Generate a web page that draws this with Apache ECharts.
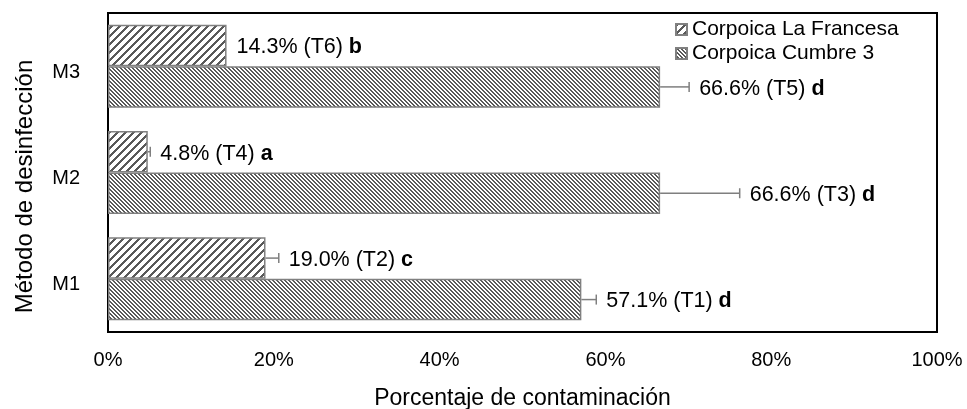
<!DOCTYPE html>
<html>
<head>
<meta charset="utf-8">
<script src="https://cdn.jsdelivr.net/npm/echarts@6/dist/echarts.min.js"></script>
<style>html,body{margin:0;background:#fff}#chart{width:967px;height:409px}</style>
</head>
<body>
<div id="chart"></div>
<script>
// datos
const categories = ['M1', 'M2', 'M3'];
const seriesNames = ['Corpoica La Francesa', 'Corpoica Cumbre 3'];
const francesa = [19.0, 4.8, 14.3];
const cumbre = [57.1, 66.6, 66.6];
const francesaErr = [1.6, 0.3, 0];
const cumbreErr = [1.8, 9.6, 3.5];
const francesaTrt = ['T2', 'T4', 'T6'];
const cumbreTrt = ['T1', 'T3', 'T5'];
const francesaLetter = ['c', 'a', 'b'];
const cumbreLetter = ['d', 'd', 'd'];

const FONT = 'Liberation Sans, Arial, sans-serif';
const gapRatio = 0.22;

// trama 8x8 estilo Excel
function hatch(test) {
    const c = document.createElement('canvas');
    c.width = 8; c.height = 8;
    const ctx = c.getContext('2d');
    ctx.fillStyle = '#fff';
    ctx.fillRect(0, 0, 8, 8);
    ctx.fillStyle = '#595959';
    for (let y = 0; y < 8; y++) {
        for (let x = 0; x < 8; x++) {
            if (test(x, y)) ctx.fillRect(x, y, 1, 1);
        }
    }
    return c;
}
const wideUp = hatch((x, y) => (x + y) % 8 < 3);
const darkDown = hatch((x, y) => (x - y + 8) % 4 < 2);

function barSeries(name, values, pattern) {
    return {
        name: name,
        type: 'bar',
        data: values,
        barGap: '0%',
        barCategoryGap: (gapRatio * 100) + '%',
        itemStyle: {
            color: { image: pattern, repeat: 'repeat' },
            borderColor: '#808080',
            borderWidth: 1.5,
        },
    };
}

// barras de error + etiqueta de cada barra
function errorSeries(values, errs, trts, letters, slot) {
    return {
        type: 'custom',
        silent: true,
        z: 5,
        data: values.map((v, i) => [v, v + errs[i], i]),
        encode: { x: [0, 1], y: 2 },
        renderItem: function (params, api) {
            const i = params.dataIndex;
            const band = api.size([0, 1])[1];
            const bw = band * (1 - gapRatio) / 2;
            const p0 = api.coord([api.value(0), api.value(2)]);
            const p1 = api.coord([api.value(1), api.value(2)]);
            const y = p0[1] + slot * bw / 2;
            const children = [];
            if (p1[0] - p0[0] > 0.5) {
                children.push({
                    type: 'line',
                    shape: { x1: p0[0], y1: y, x2: p1[0], y2: y },
                    style: { stroke: '#7f7f7f', lineWidth: 1.5 },
                });
                children.push({
                    type: 'line',
                    shape: { x1: p1[0], y1: y - 5, x2: p1[0], y2: y + 5 },
                    style: { stroke: '#7f7f7f', lineWidth: 1.5 },
                });
            }
            children.push({
                type: 'text',
                style: {
                    x: p1[0] + 10,
                    y: y + 2,
                    text: '{n|' + values[i].toFixed(1) + '% (' + trts[i] + ') }{b|' + letters[i] + '}',
                    verticalAlign: 'middle',
                    align: 'left',
                    rich: {
                        n: { fontSize: 21.5, fontFamily: FONT, fill: '#000' },
                        b: { fontSize: 21.5, fontFamily: FONT, fontWeight: 'bold', fill: '#000' },
                    },
                },
            });
            return { type: 'group', children: children };
        },
    };
}

const option = {
    animation: false,
    grid: {
        show: true,
        left: 108,
        right: 30,
        top: 13,
        bottom: 77,
        containLabel: false,
        outerBoundsMode: 'none',
        borderColor: '#000',
        borderWidth: 2,
        backgroundColor: '#fff',
    },
    legend: {
        orient: 'vertical',
        left: 675,
        top: 19,
        data: seriesNames,
        icon: 'rect',
        itemWidth: 11,
        itemHeight: 11,
        itemGap: 3,
        padding: 0,
        textStyle: { fontSize: 21, fontFamily: FONT, color: '#000' },
    },
    xAxis: {
        type: 'value',
        min: 0,
        max: 100,
        interval: 20,
        axisLine: { show: false },
        axisTick: { show: false },
        splitLine: { show: false },
        axisLabel: { formatter: '{value}%', fontSize: 20, fontFamily: FONT, color: '#000', margin: 18 },
        name: 'Porcentaje de contaminación',
        nameLocation: 'middle',
        nameGap: 55,
        nameTextStyle: { fontSize: 23, fontFamily: FONT, color: '#000' },
    },
    yAxis: {
        type: 'category',
        data: categories,
        axisLine: { show: false },
        axisTick: { show: false },
        axisLabel: { fontSize: 20, fontFamily: FONT, color: '#000', margin: 28, verticalAlign: 'top', lineHeight: 12 },
        name: 'Método de desinfección',
        nameLocation: 'middle',
        nameGap: 71,
        nameRotate: 90,
        nameTextStyle: { fontSize: 24, fontFamily: FONT, color: '#000', padding: [0, 28, 0, 0] },
    },
    series: [
        barSeries(seriesNames[0], francesa, wideUp),
        barSeries(seriesNames[1], cumbre, darkDown),
        errorSeries(francesa, francesaErr, francesaTrt, francesaLetter, -1),
        errorSeries(cumbre, cumbreErr, cumbreTrt, cumbreLetter, 1),
    ],
};

const chart = echarts.init(document.getElementById('chart'));
chart.setOption(option);
</script>
</body>
</html>
